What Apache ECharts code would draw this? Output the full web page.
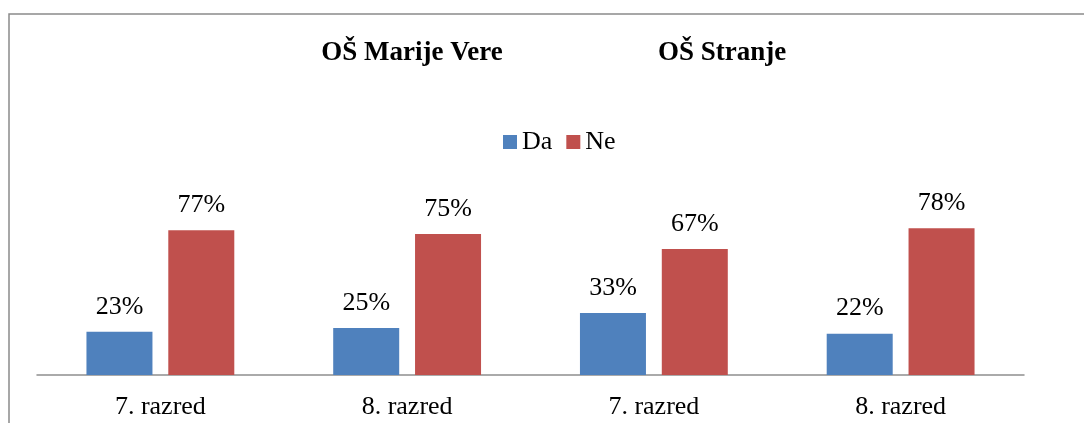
<!DOCTYPE html>
<html>
<head>
<meta charset="utf-8">
<script src="https://cdn.jsdelivr.net/npm/echarts@6/dist/echarts.min.js"></script>
<style>
  html, body { margin: 0; padding: 0; background: #fff; }
  #chart { width: 1084px; height: 423px; }
</style>
</head>
<body>
<div id="chart"></div>
<script>
var categories = ['7. razred', '8. razred', '7. razred', '8. razred'];
var schools = ['OŠ Marije Vere', 'OŠ Stranje'];
var daValues = [23, 25, 33, 22];
var neValues = [77, 75, 67, 78];

var serif = '"Liberation Serif", "Times New Roman", serif';
var chart = echarts.init(document.getElementById('chart'));

var labelStyle = {
    show: true,
    position: 'top',
    distance: 12,
    formatter: '{c}%',
    fontFamily: serif,
    fontSize: 26,
    color: '#000'
};

chart.setOption({
    animation: false,
    title: [
        { text: schools[0], left: 407, top: 35, textAlign: 'center',
          textStyle: { fontFamily: serif, fontSize: 27, fontWeight: 'bold', color: '#000' } },
        { text: schools[1], left: 717, top: 35, textAlign: 'center',
          textStyle: { fontFamily: serif, fontSize: 27, fontWeight: 'bold', color: '#000' } }
    ],
    graphic: [{
        type: 'rect',
        shape: { x: 9, y: 14, width: 1200, height: 600 },
        style: { fill: 'none', stroke: '#8a8a8a', lineWidth: 1.5 },
        silent: true
    }],
    legend: {
        data: ['Da', 'Ne'],
        left: 498,
        top: 124,
        itemWidth: 14,
        itemHeight: 14,
        itemGap: 14,
        icon: 'rect',
        textStyle: { fontFamily: serif, fontSize: 26, color: '#000' }
    },
    grid: { left: 37, right: 60, top: 187, bottom: 48 },
    xAxis: {
        type: 'category',
        data: categories,
        axisLine: { lineStyle: { color: '#8e8e8e', width: 1.5 } },
        axisTick: { show: false },
        axisLabel: { margin: 19, fontFamily: serif, fontSize: 26, color: '#000' }
    },
    yAxis: {
        type: 'value',
        min: 0,
        max: 100,
        show: false
    },
    series: [
        { name: 'Da', type: 'bar', data: daValues, barWidth: 66, barGap: '24%',
          itemStyle: { color: '#4F81BD' }, label: labelStyle },
        { name: 'Ne', type: 'bar', data: neValues, barWidth: 66, barGap: '24%',
          itemStyle: { color: '#C0504D' }, label: labelStyle }
    ]
});
</script>
</body>
</html>
